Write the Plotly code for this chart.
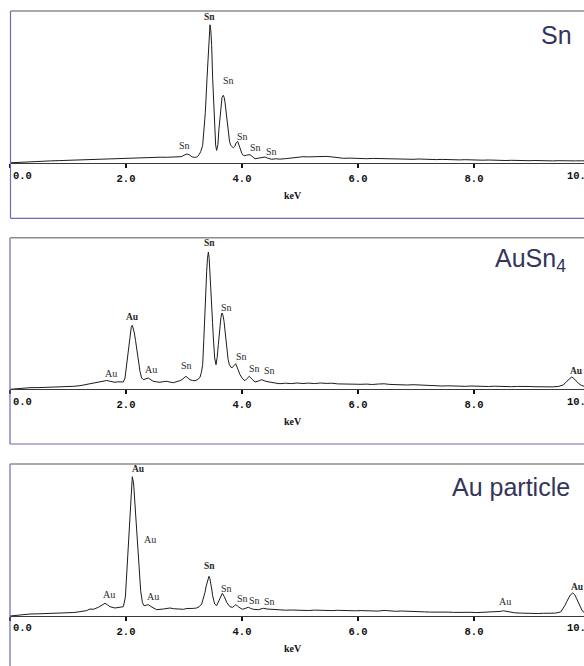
import plotly.graph_objects as go

W, H = 584, 666

# ---------------- EDS spectra: energy (keV) and counts (a.u.) ----------------
sn_energy = [0.00, 0.08, 0.18, 0.30, 0.42, 0.55, 0.70, 0.85, 1.00, 1.10, 1.20, 1.30, 1.40, 1.50,
             1.60, 1.70, 1.80, 1.90, 2.00, 2.10, 2.20, 2.30, 2.40, 2.50, 2.60, 2.70, 2.80, 2.88,
             2.95, 3.00, 3.05, 3.10, 3.14, 3.18, 3.22, 3.26, 3.29, 3.322, 3.345, 3.368, 3.397,
             3.425, 3.448, 3.462, 3.477, 3.494, 3.517, 3.532, 3.546, 3.563, 3.585, 3.603, 3.622,
             3.638, 3.656, 3.678, 3.692, 3.707, 3.722, 3.736, 3.750, 3.764, 3.785, 3.805, 3.830,
             3.851, 3.875, 3.900, 3.925, 3.950, 3.977, 4.000, 4.023, 4.050, 4.080, 4.110, 4.138,
             4.170, 4.200, 4.224, 4.260, 4.310, 4.350, 4.397, 4.440, 4.511, 4.580, 4.655, 4.75,
             4.85, 4.95, 5.05, 5.15, 5.25, 5.35, 5.45, 5.55, 5.65, 5.75, 5.85, 5.95, 6.05, 6.15,
             6.25, 6.35, 6.45, 6.55, 6.65, 6.75, 6.85, 6.95, 7.05, 7.15, 7.25, 7.35, 7.45, 7.55,
             7.65, 7.75, 7.85, 7.95, 8.05, 8.15, 8.25, 8.35, 8.45, 8.55, 8.65, 8.75, 8.85, 8.95,
             9.05, 9.15, 9.25, 9.35, 9.45, 9.55, 9.65, 9.75, 9.85, 9.90]
sn_counts = [0.5, 0.8, 1.2, 1.6, 1.9, 2.1, 2.4, 2.7, 3.0, 3.3, 3.5, 3.9, 4.1, 4.4,
             4.2, 4.7, 4.9, 5.0, 5.3, 5.1, 5.6, 5.4, 5.9, 5.7, 6.1, 6.0, 6.3, 5.8,
             6.6, 8.0, 9.4, 8.2, 6.4, 5.9, 6.3, 8.5, 12.0, 18.0, 32.0, 51.0, 85.0,
             118.0, 138.5, 133.0, 118.0, 85.0, 51.0, 32.0, 18.0, 12.9, 19.0, 34.6, 48.0,
             58.0, 66.0, 68.0, 66.0, 61.0, 53.0, 44.6, 36.0, 28.0, 22.0, 18.0, 16.0,
             15.5, 17.0, 20.5, 22.0, 18.0, 12.9, 9.5, 7.9, 7.6, 8.2, 8.8, 8.6,
             7.2, 5.3, 4.6, 4.9, 5.4, 6.0, 6.3, 5.2, 4.0, 4.5, 4.2, 4.6,
             5.5, 6.2, 6.6, 6.4, 6.8, 6.5, 6.9, 6.4, 5.6, 5.0, 5.2, 4.8, 5.1, 4.6,
             4.9, 4.7, 5.0, 4.5, 4.3, 4.6, 4.2, 4.0, 4.3, 3.9, 4.1, 3.7, 3.9, 3.6,
             3.8, 3.4, 3.6, 3.3, 3.5, 3.1, 3.3, 2.9, 3.2, 2.8, 3.0, 2.7, 2.9, 2.6,
             2.8, 2.5, 2.7, 2.4, 2.6, 2.3, 2.5, 2.4, 2.5, 2.4]

ausn4_energy = [0.00, 0.10, 0.20, 0.345, 0.50, 0.65, 0.80, 1.006, 1.10, 1.207, 1.30, 1.40, 1.48,
                1.55, 1.61, 1.667, 1.72, 1.77, 1.810, 1.86, 1.91, 1.954, 1.983, 2.011, 2.040,
                2.069, 2.090, 2.109, 2.125, 2.144, 2.164, 2.184, 2.213, 2.241, 2.270, 2.299, 2.34,
                2.385, 2.43, 2.471, 2.53, 2.586, 2.64, 2.701, 2.76, 2.816, 2.88, 2.931, 2.98,
                3.034, 3.07, 3.103, 3.15, 3.190, 3.24, 3.276, 3.30, 3.322, 3.342, 3.362, 3.378,
                3.391, 3.405, 3.420, 3.434, 3.448, 3.462, 3.477, 3.492, 3.506, 3.529, 3.552, 3.572,
                3.592, 3.607, 3.621, 3.637, 3.655, 3.672, 3.690, 3.712, 3.736, 3.760, 3.782, 3.800,
                3.822, 3.858, 3.891, 3.930, 3.966, 4.010, 4.052, 4.090, 4.126, 4.175, 4.224, 4.28,
                4.339, 4.41, 4.483, 4.57, 4.655, 4.75, 4.85, 4.95, 5.05, 5.15, 5.25, 5.35, 5.45,
                5.55, 5.65, 5.75, 5.85, 5.95, 6.05, 6.15, 6.25, 6.35, 6.45, 6.55, 6.65, 6.75, 6.85,
                6.95, 7.05, 7.15, 7.25, 7.35, 7.45, 7.55, 7.65, 7.75, 7.85, 7.95, 8.05, 8.15, 8.25,
                8.35, 8.45, 8.55, 8.65, 8.75, 8.85, 8.95, 9.05, 9.15, 9.25, 9.35, 9.45, 9.54, 9.60,
                9.65, 9.685, 9.72, 9.76, 9.80, 9.85, 9.90]
ausn4_counts = [0.0, 0.6, 1.1, 1.6, 1.7, 1.9, 2.2, 2.6, 3.0, 3.6, 4.6, 6.0, 6.6,
                7.4, 8.0, 8.8, 8.1, 7.4, 7.0, 7.5, 7.0, 7.3, 11.3, 24.6, 41.3,
                56.3, 62.0, 64.0, 61.0, 56.3, 49.0, 41.3, 28.0, 18.0, 11.3, 9.6, 10.4,
                11.3, 9.4, 8.0, 7.4, 7.0, 7.6, 8.0, 7.2, 6.6, 7.8, 8.6, 10.4,
                13.0, 11.2, 9.6, 8.8, 8.6, 10.0, 12.0, 17.0, 24.6, 50.0, 84.6, 104.0,
                118.0, 131.0, 137.3, 131.0, 118.0, 103.0, 84.6, 67.0, 51.3, 31.3, 24.6, 32.0,
                44.6, 55.0, 64.6, 72.0, 76.3, 74.0, 68.0, 56.0, 41.3, 30.0, 24.6, 22.5,
                21.3, 23.5, 25.6, 20.0, 14.6, 10.5, 8.6, 11.0, 13.0, 10.0, 7.3, 8.2,
                9.6, 8.0, 7.0, 6.3, 5.6, 6.1, 5.7, 6.3, 5.8, 6.2, 5.7, 6.3, 5.9,
                6.1, 5.4, 5.2, 4.8, 5.3, 5.0, 5.2, 4.8, 5.3, 5.5, 4.9, 4.5, 4.8, 4.3,
                4.6, 4.2, 3.8, 3.4, 3.7, 3.3, 3.5, 3.1, 3.4, 3.0, 3.3, 2.9, 3.2, 2.8,
                3.1, 2.7, 3.0, 2.6, 2.9, 2.5, 2.8, 2.6, 2.3, 2.7, 2.4, 2.8, 4.3, 8.0,
                11.0, 12.3, 11.0, 8.5, 6.0, 4.0, 3.0]

au_energy = [0.00, 0.10, 0.20, 0.345, 0.50, 0.65, 0.80, 0.977, 1.10, 1.207, 1.32, 1.379, 1.437,
             1.523, 1.58, 1.638, 1.68, 1.724, 1.810, 1.897, 1.954, 1.989, 2.011, 2.040, 2.069,
             2.092, 2.109, 2.132, 2.155, 2.184, 2.218, 2.253, 2.282, 2.310, 2.35, 2.385, 2.43,
             2.471, 2.529, 2.644, 2.70, 2.759, 2.82, 2.874, 2.93, 2.989, 3.05, 3.103, 3.16,
             3.218, 3.26, 3.305, 3.335, 3.362, 3.382, 3.402, 3.431, 3.446, 3.460, 3.478, 3.494,
             3.512, 3.529, 3.563, 3.585, 3.609, 3.635, 3.661, 3.695, 3.736, 3.793, 3.839, 3.865,
             3.891, 3.92, 3.948, 4.011, 4.06, 4.109, 4.15, 4.195, 4.282, 4.368, 4.43, 4.483,
             4.57, 4.655, 4.75, 4.85, 4.95, 5.05, 5.15, 5.25, 5.35, 5.45, 5.55, 5.65, 5.75,
             5.85, 5.95, 6.05, 6.15, 6.25, 6.35, 6.45, 6.55, 6.65, 6.75, 6.85, 6.95, 7.05, 7.15,
             7.25, 7.35, 7.45, 7.55, 7.65, 7.75, 7.85, 7.95, 8.05, 8.15, 8.25, 8.35, 8.45, 8.506,
             8.56, 8.62, 8.70, 8.80, 8.90, 9.00, 9.10, 9.20, 9.30, 9.40, 9.494, 9.53, 9.569,
             9.60, 9.626, 9.66, 9.701, 9.735, 9.770, 9.80, 9.828, 9.86, 9.885, 9.90]
au_counts = [0.0, 0.7, 1.3, 2.0, 2.2, 2.4, 2.5, 2.7, 3.5, 4.3, 5.4, 7.0, 6.7,
             8.7, 10.5, 12.7, 11.2, 9.3, 8.0, 8.7, 9.3, 18.7, 42.0, 68.7, 102.0,
             128.7, 139.3, 132.0, 112.0, 85.3, 52.0, 25.3, 13.7, 10.3, 10.8, 11.3, 9.5,
             8.0, 6.3, 7.0, 7.6, 8.0, 7.3, 7.0, 7.2, 6.7, 7.5, 7.3, 7.6,
             8.0, 9.2, 12.0, 17.0, 23.7, 30.0, 35.3, 39.7, 37.5, 33.7, 27.0, 20.3,
             15.0, 12.0, 10.3, 13.0, 17.0, 20.5, 22.7, 19.3, 13.7, 9.3, 8.7, 10.0,
             11.3, 10.2, 8.7, 6.7, 7.8, 8.7, 7.6, 6.7, 6.3, 7.7, 7.0, 6.7,
             6.2, 6.3, 5.8, 6.0, 5.6, 5.9, 5.5, 5.9, 5.6, 5.8, 5.4, 5.7, 5.3,
             5.6, 5.2, 5.4, 5.0, 5.3, 4.9, 5.6, 4.9, 4.7, 5.0, 4.6, 4.8, 4.4, 4.1,
             3.9, 4.1, 3.7, 3.9, 3.6, 3.8, 3.5, 3.7, 3.4, 3.6, 3.5, 3.8, 4.6, 5.2,
             4.5, 3.8, 3.2, 2.9, 2.6, 2.8, 2.5, 2.7, 2.6, 2.9, 4.0, 7.0, 10.7,
             14.5, 17.3, 21.0, 23.0, 21.5, 17.3, 13.0, 9.0, 6.0, 4.0, 3.6]

# ---------------- peak identification labels ----------------
sn_label_energy = [3.448, 3.764, 3.017, 4.012, 4.236, 4.500]
sn_label_counts = [146.3, 83.0, 18.0, 27.3, 16.3, 12.0]
sn_label_text = ["Sn", "Sn", "Sn", "Sn", "Sn", "Sn"]
sn_label_bold = [True, False, False, False, False, False]

ausn4_label_energy = [2.109, 1.736, 2.431, 3.046, 3.437, 3.736, 3.983, 4.207, 4.471, 9.770]
ausn4_label_counts = [72.0, 16.3, 19.6, 24.0, 146.3, 82.0, 32.3, 21.3, 18.6, 18.6]
ausn4_label_text = ["Au", "Au", "Au", "Sn", "Sn", "Sn", "Sn", "Sn", "Sn", "Au"]
ausn4_label_bold = [True, False, False, False, True, False, False, False, False, True]

au_label_energy = [2.212, 2.414, 1.707, 2.460, 3.448, 3.736, 4.005, 4.213, 4.466, 8.534, 9.781]
au_label_counts = [147.0, 77.0, 22.0, 19.7, 50.3, 28.0, 17.7, 15.3, 14.7, 15.0, 29.3]
au_label_text = ["Au", "Au", "Au", "Au", "Sn", "Sn", "Sn", "Sn", "Sn", "Au", "Au"]
au_label_bold = [True, False, False, False, True, False, False, False, False, False, True]

panel_titles = ["Sn", "AuSn<sub>4</sub>", "Au particle"]
tick_values = [2, 4, 6, 8]
tick_text = ["2.0", "4.0", "6.0", "8.0"]
axis_title = "keV"

# ---------------- page geometry (pixels) ----------------
X_LEFT = 10.0            # pixel of 0 keV
PX_PER_KEV = 58.0
X_MAX = (W - X_LEFT) / PX_PER_KEV

panels = [
    dict(top=11.0, base=163.3, bottom=218.3, border_x=10.5, title_y=34.5, title_right=574),
    dict(top=237.7, base=389.3, bottom=444.0, border_x=10.0, title_y=260.0, title_right=568),
    dict(top=464.0, base=616.0, bottom=None, border_x=10.0, title_y=486.5, title_right=572),
]
spectra = [
    (sn_energy, sn_counts, sn_label_energy, sn_label_counts, sn_label_text, sn_label_bold),
    (ausn4_energy, ausn4_counts, ausn4_label_energy, ausn4_label_counts, ausn4_label_text, ausn4_label_bold),
    (au_energy, au_counts, au_label_energy, au_label_counts, au_label_text, au_label_bold),
]


def fx(p):
    return p / W


def fy(p):
    return 1 - p / H


SPEC_COLOR = "#1c1c1c"
FRAME_SIDE = "#6a6cae"
FRAME_TOP = "#8c8c8c"
TITLE_COLOR = "#34355a"
TICK_FONT = dict(family="Liberation Mono", size=10.5, color="#111111", weight="bold")

fig = go.Figure()
annotations = []
shapes = []
layout_axes = {}

for i, (panel, spec) in enumerate(zip(panels, spectra), start=1):
    energy, counts, lab_e, lab_c, lab_t, lab_b = spec
    xa = "x" if i == 1 else f"x{i}"
    ya = "y" if i == 1 else f"y{i}"
    xkey = "xaxis" if i == 1 else f"xaxis{i}"
    ykey = "yaxis" if i == 1 else f"yaxis{i}"
    y_top = panel["base"] - panel["top"]

    fig.add_trace(go.Scatter(
        x=energy, y=counts, mode="lines", xaxis=xa, yaxis=ya,
        line=dict(color=SPEC_COLOR, width=1), hoverinfo="skip", showlegend=False,
    ))

    layout_axes[xkey] = dict(
        domain=[fx(X_LEFT), 1.0], range=[0, X_MAX], anchor=ya,
        showgrid=False, zeroline=False,
        showline=True, linecolor="#3a3a3a", linewidth=1,
        ticks="outside", ticklen=4, tickwidth=2, tickcolor="#111111",
        tickvals=tick_values, ticktext=tick_text, tickfont=TICK_FONT,
        ticklabelstandoff=1,
        # unlabelled tick at the origin (its label sits inside the frame)
        minor=dict(tickvals=[0], ticks="outside", ticklen=4, tickwidth=2,
                   tickcolor="#111111", showgrid=False),
    )
    layout_axes[ykey] = dict(
        domain=[fy(panel["base"]), fy(panel["top"])], range=[0, y_top], anchor=xa,
        visible=False,
    )

    # peak labels at their energies
    for e, c, t, b in zip(lab_e, lab_c, lab_t, lab_b):
        annotations.append(dict(
            x=e, y=c, xref=xa, yref=ya, text=t, showarrow=False,
            xanchor="center", yanchor="middle",
            font=dict(family="Liberation Serif", size=10 if not b else 9.5,
                      color="#2a2a2a", weight="bold" if b else "normal"),
        ))

    # end tick labels kept inside the frame
    tick_y = fy(panel["base"] + 12.4)
    annotations.append(dict(x=fx(11.0), y=tick_y, xref="paper", yref="paper", text="0.0",
                            showarrow=False, xanchor="left", yanchor="middle", font=TICK_FONT))
    annotations.append(dict(x=fx(565.0), y=tick_y, xref="paper", yref="paper", text="10.0",
                            showarrow=False, xanchor="left", yanchor="middle", font=TICK_FONT))
    # energy axis unit
    annotations.append(dict(x=fx(292.5), y=fy(panel["base"] + 32.0), xref="paper", yref="paper",
                            text=axis_title, showarrow=False, xanchor="center", yanchor="middle",
                            font=dict(family="Liberation Serif", size=10, color="#111111",
                                      weight="bold")))
    # panel title
    annotations.append(dict(x=fx(panel["title_right"]), y=fy(panel["title_y"]), xref="paper",
                            yref="paper", text=panel_titles[i - 1], showarrow=False,
                            xanchor="right", yanchor="middle",
                            font=dict(family="Liberation Sans", size=25, color=TITLE_COLOR)))

    # frame around each spectrum
    bottom = panel["bottom"] if panel["bottom"] is not None else H + 2
    shapes.append(dict(type="line", xref="paper", yref="paper",
                       x0=fx(panel["border_x"]), x1=fx(panel["border_x"]),
                       y0=fy(panel["top"]), y1=fy(bottom),
                       line=dict(color=FRAME_SIDE, width=1.2)))
    shapes.append(dict(type="line", xref="paper", yref="paper",
                       x0=fx(panel["border_x"]), x1=1.01, y0=fy(panel["top"]), y1=fy(panel["top"]),
                       line=dict(color=FRAME_TOP, width=1.5)))
    if panel["bottom"] is not None:
        shapes.append(dict(type="line", xref="paper", yref="paper",
                           x0=fx(panel["border_x"]), x1=1.01, y0=fy(bottom), y1=fy(bottom),
                           line=dict(color=FRAME_SIDE, width=1.2)))

fig.update_layout(
    width=W, height=H, margin=dict(l=0, r=0, t=0, b=0),
    paper_bgcolor="white", plot_bgcolor="white",
    annotations=annotations, shapes=shapes, **layout_axes,
)

fig.write_html("out.html")
